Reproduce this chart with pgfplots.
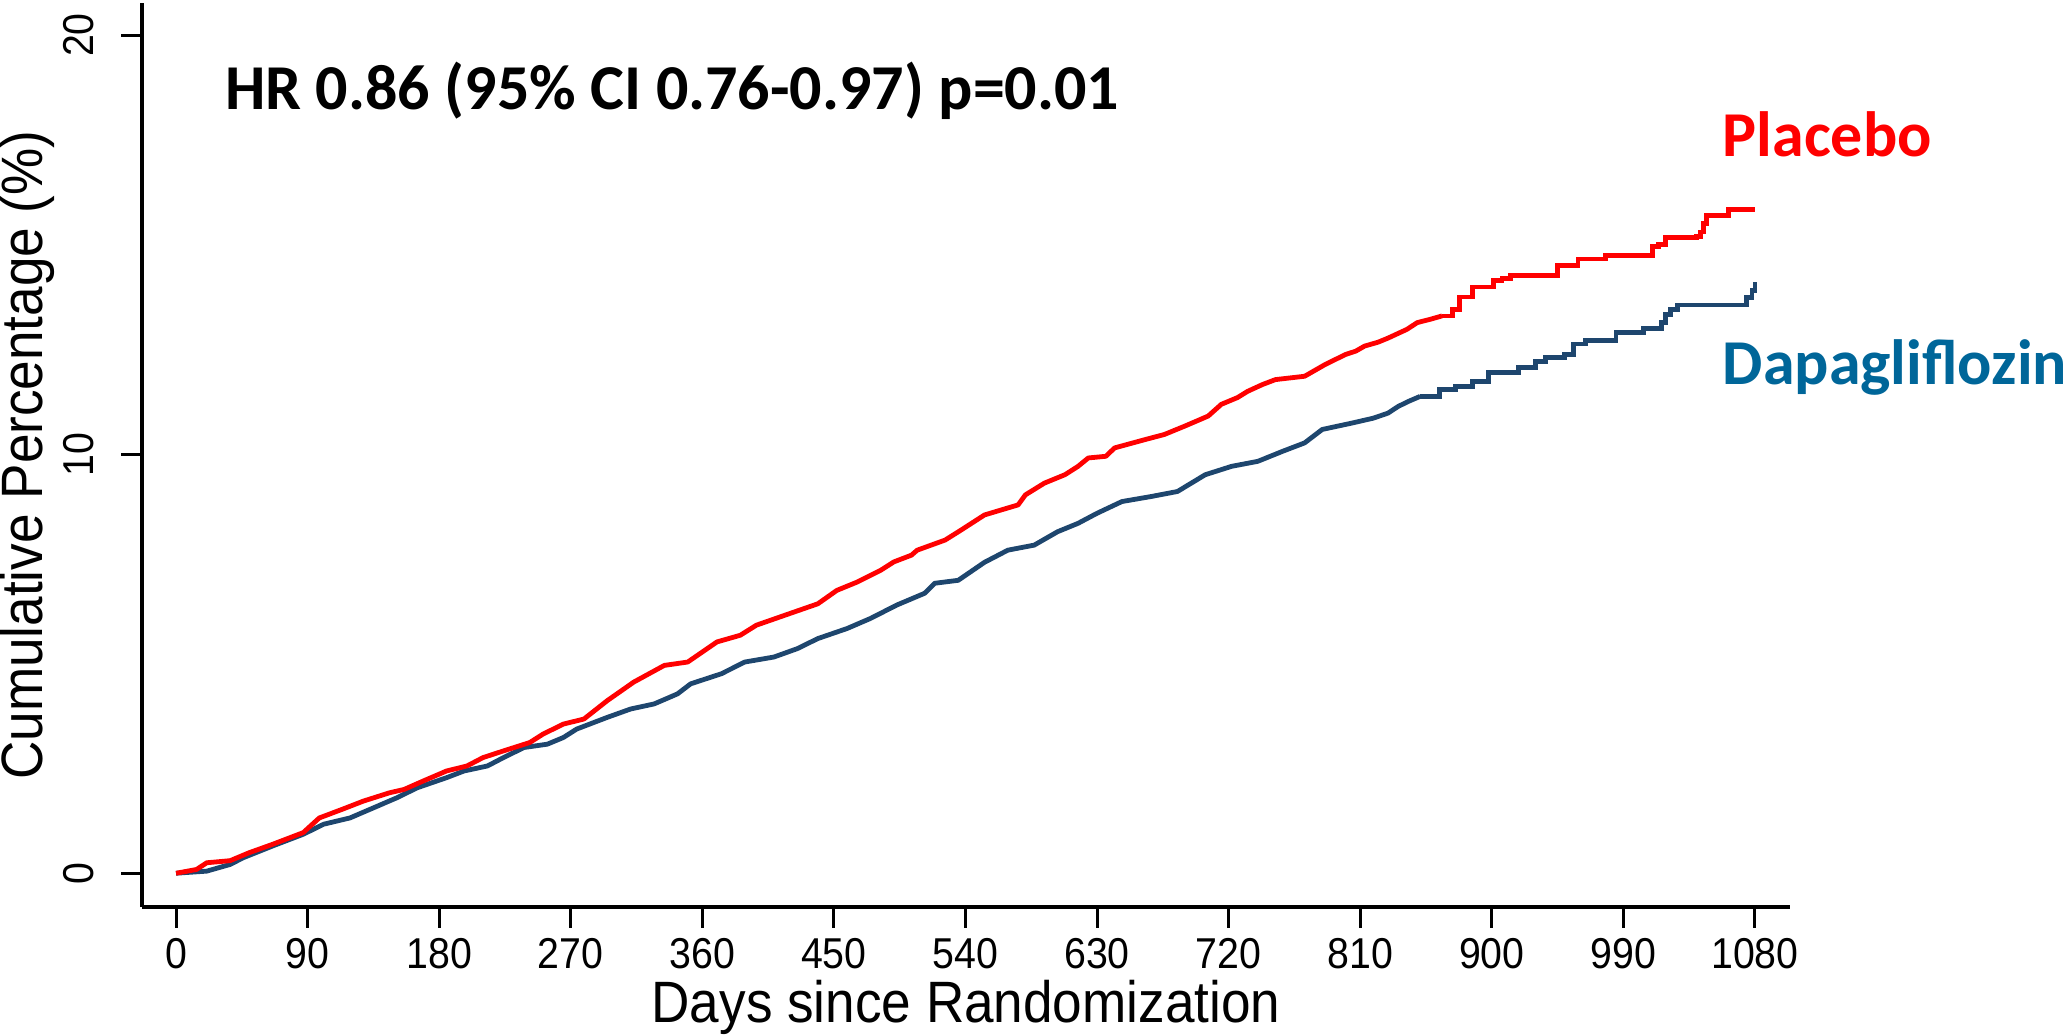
\documentclass[border=0pt]{standalone}
\usepackage{fontspec}
\setmainfont{Liberation Sans}
\newfontfamily\narrowfont[FakeStretch=0.91]{Liberation Sans}
\newfontfamily\calib{Carlito}
\usepackage{pgfplots}
\pgfplotsset{compat=1.18}
\definecolor{placred}{RGB}{255,0,0}
\definecolor{dapaline}{RGB}{30,70,110}
\definecolor{dapatext}{RGB}{0,102,153}

% Placebo, dense early part (many small steps)
\pgfplotstableread{
day pct
0 0
14 0.09
21 0.25
37 0.30
50 0.49
66 0.69
78 0.85
87 0.97
98 1.32
114 1.53
128 1.72
146 1.92
156 2.00
169 2.20
185 2.44
199 2.56
210 2.76
224 2.92
242 3.12
251 3.32
265 3.56
279 3.68
295 4.12
313 4.56
334 4.96
350 5.04
370 5.52
386 5.68
397 5.92
420 6.20
439 6.43
452 6.75
466 6.95
482 7.23
491 7.43
503 7.59
507 7.71
526 7.95
537 8.19
553 8.55
576 8.79
581 9.03
594 9.31
608 9.51
617 9.71
624 9.91
636 9.95
642 10.15
663 10.35
676 10.47
690 10.67
706 10.91
715 11.19
726 11.35
733 11.50
743 11.66
752 11.78
772 11.86
786 12.14
800 12.38
807 12.46
813 12.58
822 12.67
829 12.77
842 12.98
849 13.14
858 13.22
866 13.30
}\placeboA
% Placebo, late part (clear steps)
\pgfplotstableread{
day pct
866 13.30
873 13.46
878 13.75
887 13.99
901 14.14
907 14.20
913 14.26
945 14.50
959 14.66
978 14.74
1010 14.95
1014 15.00
1019 15.17
1040 15.20
1043 15.30
1045 15.50
1047 15.70
1062 15.84
1080 15.84
}\placeboB

% Dapagliflozin, dense early part
\pgfplotstableread{
day pct
0 0
21 0.05
37 0.21
46 0.37
66 0.65
87 0.93
101 1.17
119 1.32
135 1.56
151 1.80
165 2.04
185 2.28
197 2.44
213 2.56
224 2.76
238 3.00
254 3.08
265 3.24
274 3.44
295 3.72
311 3.92
327 4.04
343 4.28
352 4.52
373 4.76
389 5.04
409 5.16
425 5.36
439 5.60
459 5.84
475 6.08
493 6.40
512 6.68
519 6.92
535 6.99
553 7.42
569 7.71
587 7.83
603 8.15
617 8.35
630 8.59
647 8.87
667 8.99
685 9.11
704 9.51
722 9.71
740 9.83
757 10.07
772 10.27
784 10.59
804 10.74
819 10.86
829 10.98
836 11.14
843 11.26
851 11.38
}\dapaA
% Dapagliflozin, late part
\pgfplotstableread{
day pct
851 11.38
864 11.54
875 11.62
887 11.74
898 11.95
918 12.07
930 12.22
937 12.30
950 12.38
956 12.63
964 12.72
985 12.91
1004 13.00
1016 13.15
1019 13.34
1022 13.46
1027 13.56
1074 13.74
1078 13.90
1080 14.10
}\dapaB

\begin{document}
\begin{tikzpicture}
\begin{axis}[
    scale only axis,
    width=412.25pt,
    height=226pt,
    xmin=-23.3, xmax=1104,
    ymin=-0.8, ymax=20.76,
    axis lines=left,
    axis line style={-, line width=0.9pt},
    tick style={black, line width=0.75pt},
    tick align=outside,
    major tick length=5.25pt,
    xtick={0,90,180,270,360,450,540,630,720,810,900,990,1080},
    ytick={0,10,20},
    /pgf/number format/assume math mode=true,
    /pgf/number format/1000 sep={},
    tick label style={font=\narrowfont\fontsize{10.8}{12}\selectfont},
    xticklabel style={yshift=1pt},
    yticklabel={\rotatebox{90}{\pgfmathprintnumber{\tick}}},
    yticklabel style={anchor=east, xshift=-3.3pt},
    xlabel={Days since Randomization},
    ylabel={Cumulative Percentage (\%)},
    every axis x label/.style={at={(axis description cs:0.5,0)}, anchor=base,
        inner sep=0pt, yshift=-29pt, font=\narrowfont\fontsize{14.6}{16}\selectfont},
    every axis y label/.style={at={(axis description cs:-0.0605,0.5)}, rotate=90,
        anchor=base, inner sep=0pt, font=\narrowfont\fontsize{14.6}{16}\selectfont},
    clip=false,
]
\addplot[sharp plot, draw=dapaline, line width=1.2pt, line join=round] table[x=day, y=pct] {\dapaA};
\addplot[const plot, draw=dapaline, line width=1.2pt] table[x=day, y=pct] {\dapaB};
\addplot[sharp plot, draw=placred, line width=1.2pt, line join=round] table[x=day, y=pct] {\placeboA};
\addplot[const plot, draw=placred, line width=1.2pt] table[x=day, y=pct] {\placeboB};

\node[anchor=base west, inner sep=0, font=\calib\bfseries\fontsize{16}{19}\selectfont]
    at (axis cs:33,18.23) {HR 0.86 (95\% CI 0.76-0.97) p=0.01};
\node[anchor=base west, inner sep=0, text=placred, font=\calib\bfseries\fontsize{16}{19}\selectfont]
    at (axis cs:1057.5,17.11) {Placebo};
\node[anchor=base west, inner sep=0, text=dapatext, font=\calib\bfseries\fontsize{16}{19}\selectfont]
    at (axis cs:1057.5,11.67) {Dapagliflozin};
\end{axis}
\end{tikzpicture}
\end{document}
